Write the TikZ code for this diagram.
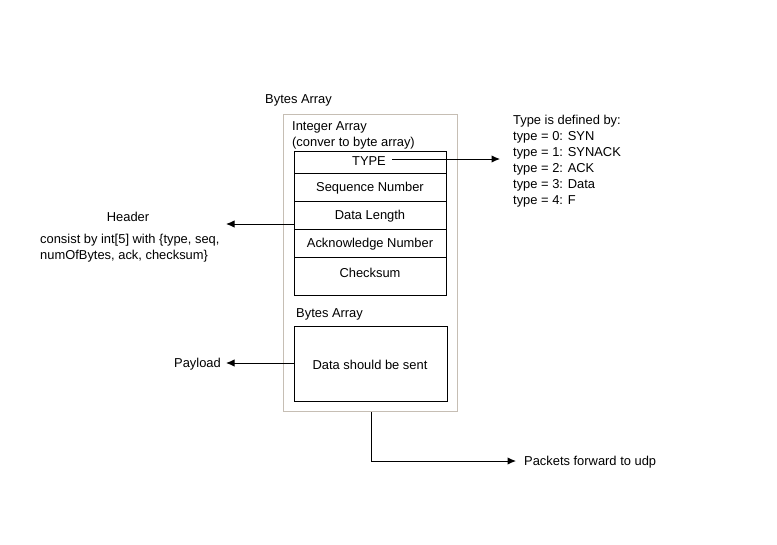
\documentclass[tikz,border=0pt]{standalone}
\usepackage{fontspec}
\setmainfont{Liberation Sans}
\usetikzlibrary{arrows.meta}
\begin{document}
\begin{tikzpicture}[x=1pt,y=-1pt,
  txt/.style={font=\fontsize{12.9}{16}\selectfont, inner sep=0pt},
  cell/.style={draw=black, line width=1pt, minimum width=152pt, inner sep=0pt, anchor=north west},
  conn/.style={draw=black, line width=1pt},
  arr/.style={conn, -{Latex[length=8.5pt,width=7.5pt]}}]
\useasboundingbox (0,0) rectangle (777,544);
\definecolor{outerc}{RGB}{198,190,180}
% outer box
\node[draw=outerc, line width=1pt, minimum width=174pt, minimum height=297pt, anchor=north west, inner sep=0pt] (outer) at (283,114) {};
\node[txt, anchor=west] (bytes1) at (265,100.5) {Bytes Array};
\node[txt, anchor=west, align=left] (intarr) at (292,135.5) {Integer Array\\(conver to byte array)};
% table cells
\node[cell, minimum height=22pt] (rtype) at (294,151) {};
\node[cell, minimum height=28pt] (rseq) at (294,173) {};
\node[cell, minimum height=28pt] (rlen) at (294,201) {};
\node[cell, minimum height=28pt] (rack) at (294,229) {};
\node[cell, minimum height=38pt] (rchk) at (294,257) {};
\node[txt] (ttype) at (369,161.5) {TYPE};
\node[txt] (tseq) at (370,188.5) {Sequence Number};
\node[txt] (tlen) at (370,216.5) {Data Length};
\node[txt] (tack) at (370,244.5) {Acknowledge Number};
\node[txt] (tchk) at (370,272.5) {Checksum};
% payload
\node[txt, anchor=west] (bytes2) at (296,314.5) {Bytes Array};
\node[cell, minimum width=153pt, minimum height=75pt] (data) at (294,326) {};
\node[txt] (tdata) at (370,364.5) {Data should be sent};
% labels
\node[txt, anchor=west, align=left] (typedef) at (513,161) {Type is defined by:\\type = 0: SYN\\type = 1: SYNACK\\type = 2: ACK\\type = 3: Data\\type = 4: F};
\node[txt] (header) at (128,216.5) {Header};
\node[txt, anchor=west, align=left] (consist) at (40,248.5) {consist by int[5] with \{type, seq,\\numOfBytes, ack, checksum\}};
\node[txt, anchor=east] (payload) at (221,364.5) {Payload};
\node[txt, anchor=west] (packets) at (524,462.5) {Packets forward to udp};
% connectors
\coordinate (typeEnd) at (500,159);
\coordinate (headEnd) at (226,224);
\coordinate (payEnd) at (226,363);
\coordinate (pktEnd) at (516,461);
\draw[arr] (ttype.east |- 0,159) ++(6,0) -- (typeEnd);
\draw[arr] (rlen.west |- 0,224) -- (headEnd);
\draw[arr] (data.west |- 0,363) -- (payEnd);
\draw[arr] (outer.south -| 371,0) |- (pktEnd);
\end{tikzpicture}
\end{document}
